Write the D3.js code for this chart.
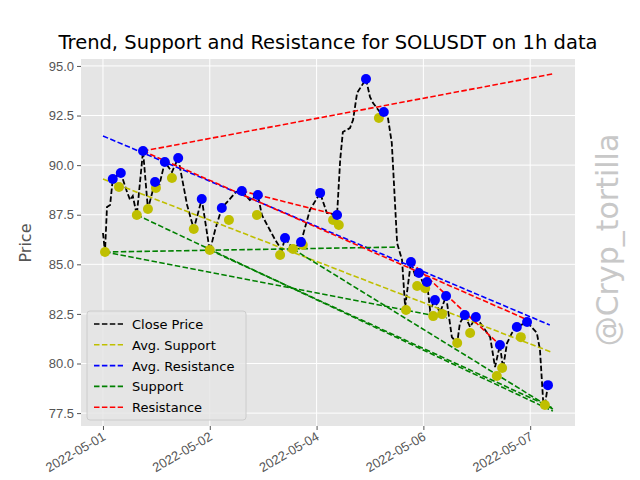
<!DOCTYPE html>
<html><head><meta charset="utf-8">
<script src="https://cdn.jsdelivr.net/npm/d3@7"></script>
<style>body{margin:0;background:#fff}svg{font-family:"DejaVu Sans",sans-serif}</style>
</head><body><svg id="c" width="640" height="480"></svg>
<script>
// hours since 2022-05-01 00:00, close price
const closeHours=[0,0.45,0.9,1.6,2.2,4.0,5.4,6.1,6.7,7.6,9.0,10.1,11.7,12.4,13.9,15.5,16.9,18.9,20.4,22.2,24.0,25.2,26.7,28.3,29.9,31.2,33.0,34.8,35.7,37.5,38.7,40.2,40.9,42.7,44.5,46.5,48.8,50.3,52.6,53.3,53.9,55.5,56.2,57.1,59.1,60.0,60.7,62.2,63.1,64.0,64.9,66.1,67.2,67.9,69.2,70.1,71.0,71.9,72.8,73.5,74.6,75.7,77.1,78.4,79.6,80.2,81.3,82.5,83.8,85.4,87.0,88.1,89.2,89.9,90.8,91.9,93.0,95.3,97.5,98.2,98.9,99.3,100];
const closePrice=[86.58,85.62,87.89,87.99,89.30,89.60,88.65,88.24,88.44,87.49,90.71,87.79,89.15,88.75,90.16,89.65,90.36,87.99,86.78,88.29,85.67,86.73,87.84,88.24,88.65,88.70,88.24,88.49,87.49,86.73,86.23,85.72,86.33,85.77,86.12,87.74,88.60,87.59,87.49,90.26,91.67,91.87,92.28,93.64,94.34,93.44,93.13,92.68,92.68,92.43,91.12,86.07,85.22,82.85,85.12,84.46,84.56,84.06,84.11,82.70,83.20,82.54,83.40,81.33,81.03,82.04,82.44,81.84,82.34,81.84,81.33,79.82,80.93,79.77,81.03,81.54,81.84,82.09,81.54,80.68,78.16,77.91,78.91];
const resHours=[2.2,4.0,9.0,11.7,13.9,16.9,22.2,26.7,31.2,34.8,40.9,44.5,48.8,52.6,59.1,63.1,69.2,71.0,72.8,74.6,77.1,81.3,83.8,89.2,93.0,95.3,100];
const resPrice=[89.30,89.60,90.71,89.15,90.16,90.36,88.29,87.84,88.70,88.49,86.33,86.12,88.60,87.49,94.34,92.68,85.12,84.56,84.11,83.20,83.40,82.44,82.34,80.93,81.84,82.09,78.91];
const supHours=[0.45,3.6,7.6,10.1,11.9,15.5,20.4,24.0,28.3,34.6,39.8,42.7,44.9,51.7,53.0,62.0,68.1,70.6,72.4,74.2,76.2,79.6,82.5,88.5,89.7,93.9,99.3];
const supPrice=[85.62,88.90,87.49,87.79,88.85,89.35,86.78,85.72,87.23,87.49,85.47,85.77,85.97,87.23,86.98,92.38,82.70,83.91,83.80,82.39,82.49,81.03,81.54,79.37,79.77,81.33,77.91];
// trend lines: [h1,p1,h2,p2]
const avgSupport=[0,89.30,100.7,80.58];
const avgResistance=[0,91.47,100.4,81.94];
const supportLines=[[0.45,85.62,66.1,85.87],[0.45,85.62,77.3,82.29],[7.6,87.49,101.1,77.60],[24.0,85.72,101.1,77.75],[42.7,85.77,101.1,77.70]];
const resistanceLines=[[9.0,90.71,101.1,94.60],[31.2,88.70,52.6,87.49],[9.0,90.71,95.5,82.19],[69.2,85.12,89.2,80.93]];
const xTickHours=[0,24,48,72,96];
const xTickLabels=["2022-05-01","2022-05-02","2022-05-04","2022-05-06","2022-05-07"];
const yTicks=[77.5,80,82.5,85,87.5,90,92.5,95];

const svg=d3.select("#c");
const L=81,R=575,T=59,B=426;
const x=d3.scaleLinear().domain([-4.94,106.07]).range([L,R]);
const y=d3.scaleLinear().domain([76.85,95.35]).range([B,T]);
svg.append("rect").attr("x",L).attr("y",T).attr("width",R-L).attr("height",B-T).attr("fill","#E5E5E5");
const g=svg.append("g");
xTickHours.forEach(h=>g.append("line").attr("x1",x(h)).attr("x2",x(h)).attr("y1",T).attr("y2",B).attr("stroke","#fff").attr("stroke-width",1));
yTicks.forEach(v=>g.append("line").attr("x1",L).attr("x2",R).attr("y1",y(v)).attr("y2",y(v)).attr("stroke","#fff").attr("stroke-width",1));
const ya=svg.append("g").attr("transform",`translate(${L},0)`).call(d3.axisLeft(y).tickValues(yTicks).tickFormat(d3.format(".1f")).tickSize(4).tickPadding(3));
const xa=svg.append("g").attr("transform",`translate(0,${B})`).call(d3.axisBottom(x).tickValues(xTickHours).tickFormat((d,i)=>xTickLabels[i]).tickSize(4));
[ya,xa].forEach(a=>{a.select(".domain").remove();a.selectAll("line").attr("stroke","#555");a.selectAll("text").attr("fill","#555").attr("font-size",13);});
xa.selectAll("text").attr("text-anchor","end").attr("dy",0).attr("transform","translate(0,8) rotate(-30)").attr("x",0).attr("y",6);

const dash="5.5,2.4";
const line=d3.line().x((d,i)=>x(closeHours[i])).y(d=>y(d));
svg.append("path").attr("d",line(closePrice)).attr("fill","none").attr("stroke","#000").attr("stroke-width",1.8).attr("stroke-dasharray",dash);
function seg(s,col){svg.append("line").attr("x1",x(s[0])).attr("y1",y(s[1])).attr("x2",x(s[2])).attr("y2",y(s[3])).attr("stroke",col).attr("stroke-width",1.6).attr("stroke-dasharray",dash);}
seg(avgSupport,"#bfbf00");seg(avgResistance,"#0000ff");
supportLines.forEach(s=>seg(s,"#008000"));
resistanceLines.forEach(s=>seg(s,"#ff0000"));
svg.append("g").selectAll("circle").data(supPrice).join("circle").attr("cx",(d,i)=>x(supHours[i])).attr("cy",d=>y(d)).attr("r",5).attr("fill","#bfbf00");
svg.append("g").selectAll("circle").data(resPrice).join("circle").attr("cx",(d,i)=>x(resHours[i])).attr("cy",d=>y(d)).attr("r",5).attr("fill","#0000ff");

svg.append("text").attr("x",328).attr("y",49).attr("text-anchor","middle").attr("font-size",19.5).attr("fill","#000").text("Trend, Support and Resistance for SOLUSDT on 1h data");
svg.append("text").attr("transform","translate(31,243) rotate(-90)").attr("text-anchor","middle").attr("font-size",16).attr("fill","#555").text("Price");
svg.append("text").attr("transform","translate(618,240) rotate(-90)").attr("text-anchor","middle").attr("font-size",30).attr("fill","#c8c8c8").text("@Cryp_tortilla");

const leg=[["Close Price","#000"],["Avg. Support","#bfbf00"],["Avg. Resistance","#0000ff"],["Support","#008000"],["Resistance","#ff0000"]];
svg.append("rect").attr("x",87).attr("y",311).attr("width",159).attr("height",109).attr("rx",3).attr("fill","#E5E5E5").attr("fill-opacity",0.8).attr("stroke","#ccc");
leg.forEach((l,i)=>{const yy=324+i*20.8;
svg.append("line").attr("x1",94).attr("x2",123).attr("y1",yy).attr("y2",yy).attr("stroke",l[1]).attr("stroke-width",1.6).attr("stroke-dasharray",dash);
svg.append("text").attr("x",132).attr("y",yy+5).attr("font-size",13).attr("fill","#000").text(l[0]);});
</script></body></html>
